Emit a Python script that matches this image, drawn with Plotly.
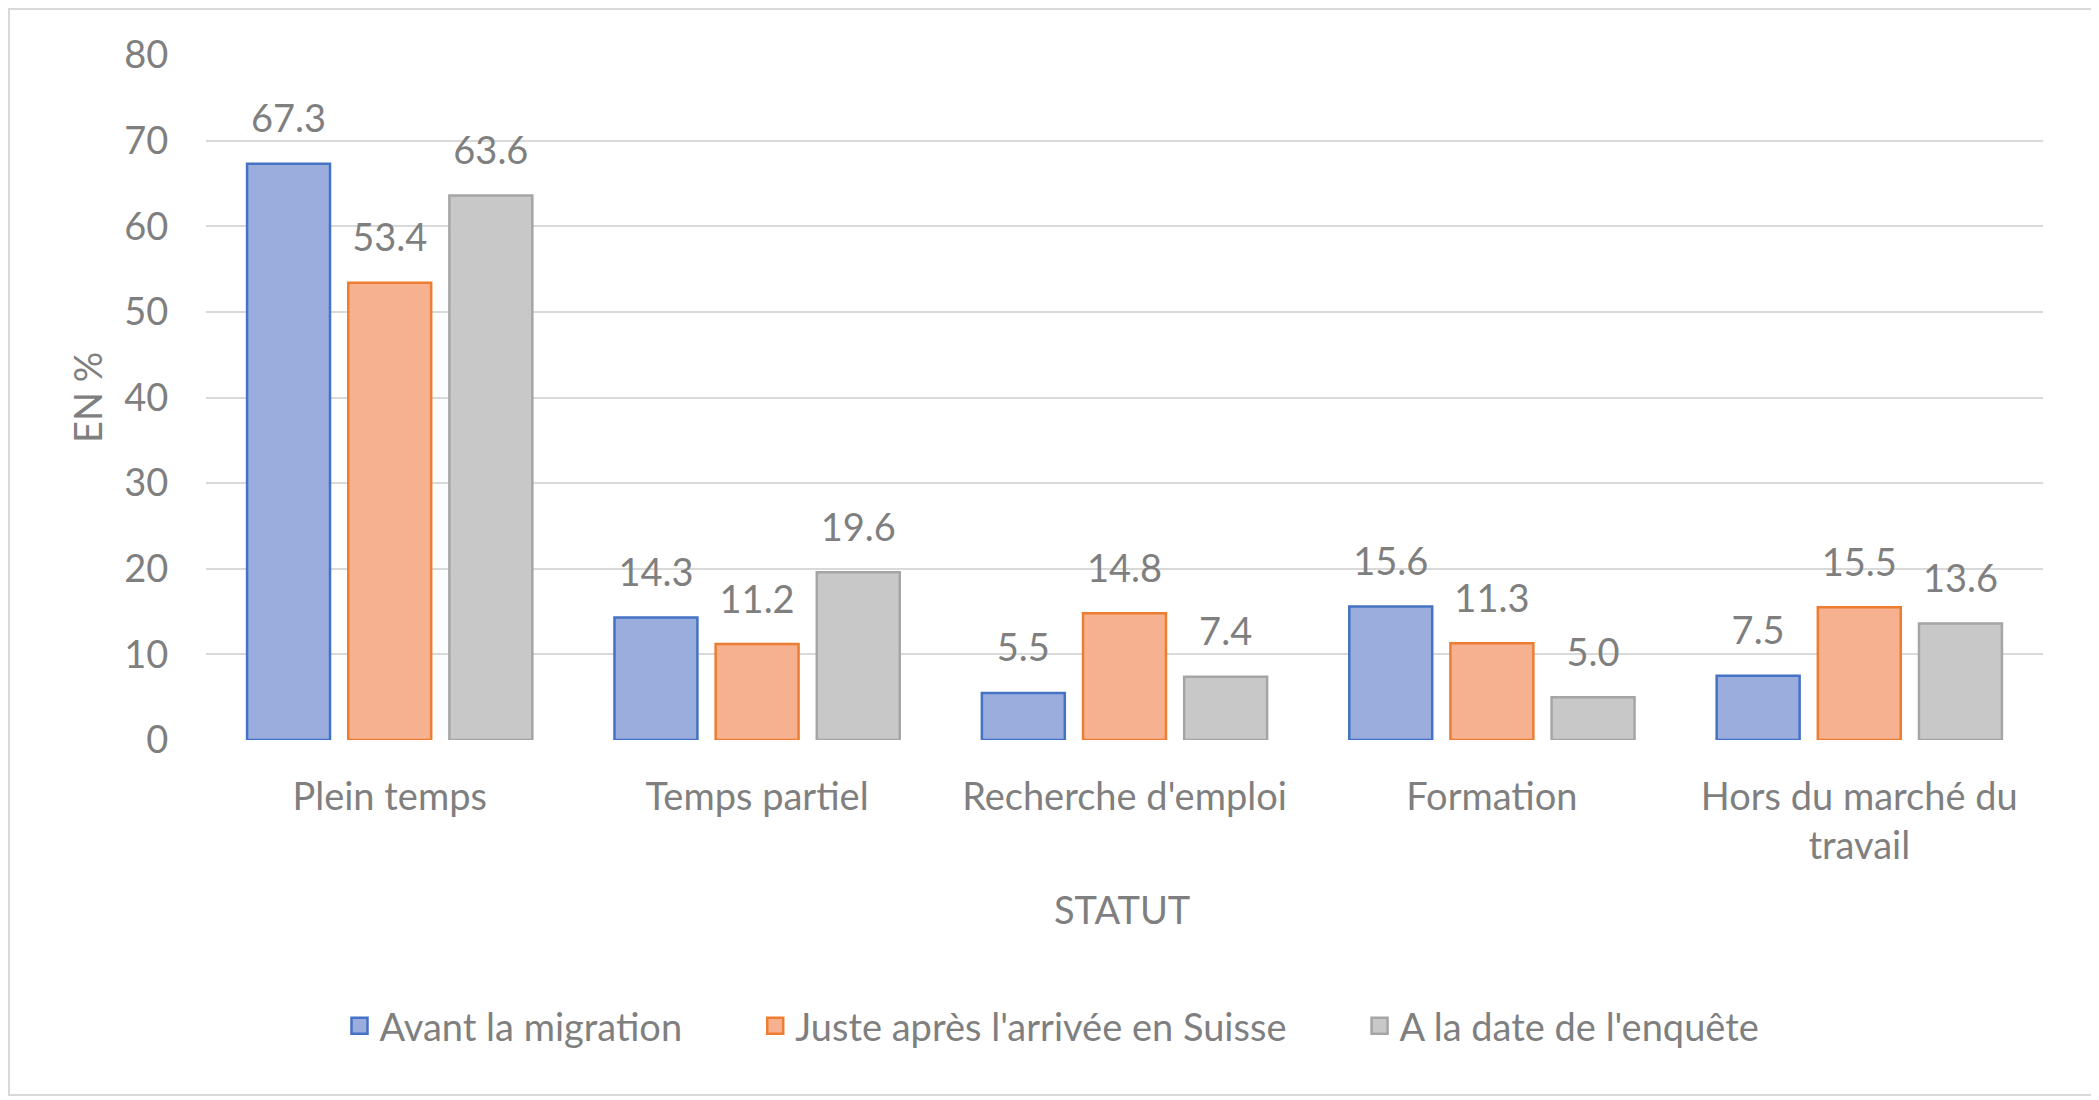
import plotly.graph_objects as go

categories = ["Plein temps", "Temps partiel", "Recherche d'emploi", "Formation",
              "Hors du marché du<br>travail"]
series_names = ["Avant la migration", "Juste après l'arrivée en Suisse", "A la date de l'enquête"]
avant = [67.3, 14.3, 5.5, 15.6, 7.5]
juste = [53.4, 11.2, 14.8, 11.3, 15.5]
date_enquete = [63.6, 19.6, 7.4, 5.0, 13.6]
y_ticks = [0, 10, 20, 30, 40, 50, 60, 70, 80]

series_values = [avant, juste, date_enquete]
fills = ["#9AADDC", "#F6B191", "#C8C8C8"]
borders = ["#4472C4", "#ED7D31", "#A5A5A5"]
legend_pad = [7, 7, 0]  # non-breaking spaces after each legend label

FONT = "Lato, 'Open Sans', sans-serif"
TXT = "#7F7F7F"
FS = 38
LABEL_GAP = 2.4  # axis units of empty space between bar top and its label

OFF = 8  # page body margin
W, H = 2099 - OFF, 1100 - OFF
# plot area in screen pixels: x 206..2043, y 55..740
L, T = 206 - OFF, 55 - OFF
R, B = W - (2043 - OFF), H - (740 - OFF)
PW, PH = W - L - R, H - T - B

def px_to_paper_x(px):
    return (px - OFF - L) / PW

def px_to_paper_y(py):
    return (H - B - (py - OFF)) / PH

fig = go.Figure()
for i, (name, vals) in enumerate(zip(series_names, series_values)):
    fig.add_trace(go.Bar(
        name=name, x=categories, y=vals, offsetgroup=str(i), showlegend=False,
        marker=dict(color=fills[i], line=dict(color=borders[i], width=2.5)),
        hovertemplate="%{x}: %{y:.1f}<extra>" + name + "</extra>",
    ))
for i, (name, vals) in enumerate(zip(series_names, series_values)):
    fig.add_trace(go.Bar(
        x=categories, y=[LABEL_GAP] * len(vals), base=vals, offsetgroup=str(i),
        marker=dict(color="rgba(0,0,0,0)", line=dict(width=0)),
        text=[f"{v:.1f}" for v in vals], textposition="outside",
        constraintext="none", cliponaxis=False,
        textfont=dict(family=FONT, size=FS, color=TXT),
        showlegend=False, hoverinfo="skip",
    ))
# legend entries (larger square swatches)
for i, name in enumerate(series_names):
    fig.add_trace(go.Scatter(
        x=[None], y=[None], mode="markers", name=name + "\u00a0" * legend_pad[i],
        marker=dict(symbol="square", size=20, color=fills[i],
                    line=dict(color=borders[i], width=2.5)),
        showlegend=True, hoverinfo="skip",
    ))

fig.update_layout(
    width=W, height=H,
    margin=dict(l=L, r=R, t=T, b=B, autoexpand=False),
    paper_bgcolor="white", plot_bgcolor="white",
    barmode="group", bargap=0.174, bargroupgap=0.18,
    font=dict(family=FONT, size=FS, color=TXT),
    showlegend=True,
    legend=dict(orientation="h", x=px_to_paper_x(1052), xanchor="center",
                y=px_to_paper_y(1026), yanchor="middle",
                font=dict(family=FONT, size=FS, color=TXT),
                bgcolor="rgba(0,0,0,0)", traceorder="normal"),
    xaxis=dict(showgrid=False, showline=False, zeroline=False,
               ticks="outside", ticklen=23, tickcolor="rgba(0,0,0,0)",
               tickfont=dict(family=FONT, size=FS, color=TXT), automargin=False),
    yaxis=dict(range=[0, 80], tickvals=y_ticks, showgrid=True, gridcolor="#D9D9D9",
               gridwidth=2, zeroline=False, showline=False,
               ticks="outside", ticklen=29, tickcolor="rgba(0,0,0,0)",
               tickfont=dict(family=FONT, size=FS, color=TXT), automargin=False),
    annotations=[
        dict(text="EN %", xref="paper", yref="paper", x=px_to_paper_x(87),
             y=px_to_paper_y(398), textangle=-90, showarrow=False,
             font=dict(family=FONT, size=FS, color=TXT), xanchor="center", yanchor="middle"),
        dict(text="STATUT", xref="paper", yref="paper", x=px_to_paper_x(1122),
             y=px_to_paper_y(909), showarrow=False,
             font=dict(family=FONT, size=FS, color=TXT), xanchor="center", yanchor="middle"),
    ],
    shapes=[dict(type="rect", xref="paper", yref="paper",
                 x0=px_to_paper_x(9), x1=px_to_paper_x(2094),
                 y0=px_to_paper_y(1095), y1=px_to_paper_y(9),
                 line=dict(color="#D9D9D9", width=2), fillcolor="rgba(0,0,0,0)", layer="below")],
)

fig.write_html("out.html")
